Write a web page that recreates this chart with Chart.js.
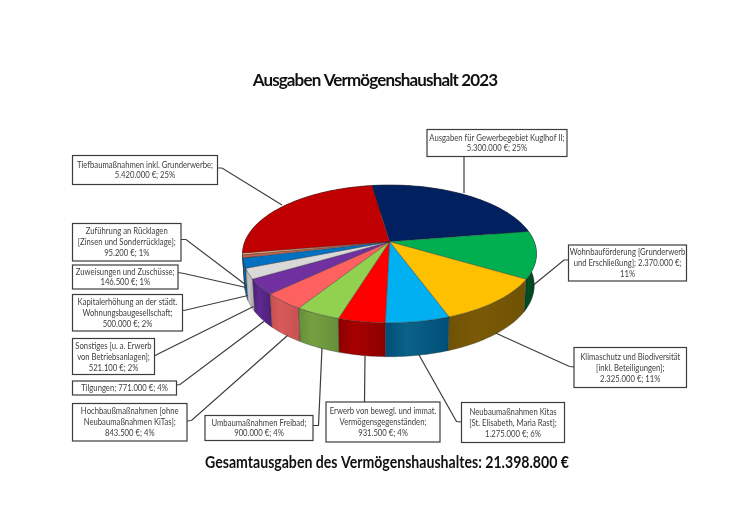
<!DOCTYPE html>
<html><head><meta charset="utf-8">
<style>html,body{margin:0;padding:0;background:#fff}canvas{display:block}</style>
<script src="https://cdn.jsdelivr.net/npm/chart.js@4"></script>
</head><body><canvas id="c" width="750" height="530"></canvas>
<script>
const categories = ["Ausgaben für Gewerbegebiet Kuglhof II","Wohnbauförderung","Klimaschutz und Biodiversität","Neubaumaßnahmen Kitas","Erwerb von bewegl. und immat. Vermögensgegenständen","Umbaumaßnahmen Freibad","Hochbaumaßnahmen","Tilgungen","Sonstiges","Kapitalerhöhung","Zuweisungen und Zuschüsse","Zuführung an Rücklagen","Tiefbaumaßnahmen"];
const values = [5300000,2370000,2325000,1275000,931500,900000,843500,771000,521100,500000,146500,95200,5420000];
const topColors = ["#002060","#00B050","#FFC000","#00B0F0","#FF0000","#92D050","#FF6161","#7030A0","#D9D9D9","#0070C0","#C0654D","#F4B183","#C00000"];
const wallColors = [["#001030","#001030"],["#004D25","#00401e"],["#7A5A06","#705204"],["#0A6288","#004F78"],["#A80000","#8c0000"],["#76A040","#64903a"],["#D85A5A","#C85050"],["#5E2A90","#4c1f78"],["#C4C4C4","#A8A8A8"],["#0A6AB0","#0A5A98"],["#90503c","#90503c"],["#c09070","#c09070"],["#800000","#800000"]];
const labelLines = [
 ["Ausgaben für Gewerbegebiet Kuglhof II;","5.300.000 €; 25%"],
 ["Wohnbauförderung [Grunderwerb","und Erschließung]; 2.370.000 €;","11%"],
 ["Klimaschutz und Biodiversität","[inkl. Beteiligungen];","2.325.000 €; 11%"],
 ["Neubaumaßnahmen Kitas","[St. Elisabeth, Maria Rast];","1.275.000 €; 6%"],
 ["Erwerb von bewegl. und immat.","Vermögensgegenständen;","931.500 €; 4%"],
 ["Umbaumaßnahmen Freibad;","900.000 €; 4%"],
 ["Hochbaußmaßnahmen [ohne","Neubaumaßnahmen KiTas];","843.500 €; 4%"],
 ["Tilgungen; 771.000 €; 4%"],
 ["Sonstiges [u. a. Erwerb","von Betriebsanlagen];","521.100 €; 2%"],
 ["Kapitalerhöhung an der städt.","Wohnungsbaugesellschaft;","500.000 €; 2%"],
 ["Zuweisungen und Zuschüsse;","146.500 €; 1%"],
 ["Zuführung an Rücklagen","[Zinsen und Sonderrücklage];","95.200 €; 1%"],
 ["Tiefbaumaßnahmen inkl. Grunderwerbe;","5.420.000 €; 25%"]
];
const labelBoxes = [[427,129.5,140,27],[568.5,245,118,36],[574,347.5,112.5,40],[461.5,402.5,103,40],[326,402,114,40],[205,415.5,108,25],[72.5,403.5,114.5,37.5],[72.5,381,104,14],[72.5,338.5,82,36],[72.5,294.5,110,36.5],[72.5,265,105.5,24],[72.5,223.5,108.5,37.5],[72.5,155.5,145,29]];
const leaders = [
 [[464,156.5],[464,193]],
 [[568.5,260],[564,260],[533.5,285]],
 [[574,367],[569.5,366.5],[495.5,333]],
 [[461.5,422],[456.5,421.5],[419,355]],
 [[364.5,402],[365,356]],
 [[313,425.5],[318.5,425.5],[322,348]],
 [[187,421],[191.5,420.5],[287.5,335.5]],
 [[176.5,385],[180,384.5],[264.5,321]],
 [[154.5,356],[159,353.5],[253.5,306.5]],
 [[182.5,310],[184,310.5],[248,295.5]],
 [[178,272.5],[184,273.5],[246,287.5]],
 [[181,239.5],[186,239.5],[246,285]],
 [[217.5,168],[222,168],[282,205]]
];
const titleText = "Ausgaben Vermögenshaushalt 2023";
const totalText = "Gesamtausgaben des Vermögenshaushaltes: 21.398.800 €";
const TEXT_FONT = 'Lato,sans-serif';

// perspective view of the pie's disk
const P = {cx:389.5, cy:241.7, C:144.7, B:66.7, p:0.1765};
function top3d(a){const u=Math.cos(a),v=Math.sin(a),w=1-P.p*v;return [P.cx+P.C*u/w,P.cy+P.B*v/w];}
function bottom3d(a){const t=top3d(a),v=Math.sin(a);return [P.cx+(t[0]-P.cx)*0.985,t[1]+31+3*v];}
function arcPts(fn,s,e){const n=Math.max(2,Math.ceil((e-s)/0.02)),o=[];for(let i=0;i<=n;i++)o.push(fn(s+(e-s)*i/n));return o;}
function trace(ctx,pts){pts.forEach((q,i)=>i?ctx.lineTo(q[0],q[1]):ctx.moveTo(q[0],q[1]));}
function trace2(ctx,pts){pts.forEach(q=>ctx.lineTo(q[0],q[1]));}
function narrowText(ctx,s,x,y,k){ctx.save();ctx.translate(x,y);ctx.scale(k,1);ctx.fillText(s,0,0);ctx.restore();}

const pie3d = {
 id:'pie3d',
 beforeDraw(chart){chart.ctx.letterSpacing='-0.85px';},
 beforeDatasetDraw(chart,args){
  const ctx=chart.ctx, arcs=chart.getDatasetMeta(args.index).data;
  ctx.letterSpacing='0px';
  ctx.save();
  const order=arcs.map((a,i)=>i).sort((i,j)=>Math.sin((arcs[i].startAngle+arcs[i].endAngle)/2)-Math.sin((arcs[j].startAngle+arcs[j].endAngle)/2));
  order.forEach(i=>{
   const a=arcs[i],t=arcPts(top3d,a.startAngle,a.endAngle),b=arcPts(bottom3d,a.startAngle,a.endAngle);
   const xs=t.concat(b).map(q=>q[0]),x0=Math.min(...xs),x1=Math.max(...xs);
   const g=ctx.createLinearGradient(x0,0,x1,0);
   g.addColorStop(0,wallColors[i][1]);g.addColorStop(0.35,wallColors[i][0]);g.addColorStop(1,wallColors[i][1]);
   ctx.beginPath();trace(ctx,t);trace2(ctx,b.reverse());ctx.closePath();
   ctx.fillStyle=g;ctx.fill();
   ctx.strokeStyle='rgba(40,40,40,0.55)';ctx.lineWidth=0.6;ctx.stroke();
  });
  arcs.forEach(a=>{
   ctx.beginPath();ctx.moveTo(P.cx,P.cy);trace2(ctx,arcPts(top3d,a.startAngle,a.endAngle));ctx.closePath();
   ctx.fillStyle=a.options.backgroundColor;ctx.fill();
   ctx.strokeStyle='rgba(50,50,50,0.6)';ctx.lineWidth=0.6;ctx.stroke();
  });
  ctx.restore();
  return false;
 },
 afterDatasetsDraw(chart){
  const ctx=chart.ctx;ctx.save();
  ctx.strokeStyle='#3c3c3c';ctx.lineWidth=1.2;
  leaders.forEach(l=>{ctx.beginPath();trace(ctx,l);ctx.stroke();});
  labelBoxes.forEach((b,i)=>{
   ctx.fillStyle='#fff';ctx.fillRect(b[0],b[1],b[2],b[3]);
   ctx.strokeStyle='#3c3c3c';ctx.lineWidth=1.2;ctx.strokeRect(b[0],b[1],b[2],b[3]);
   ctx.fillStyle='#404040';ctx.font='9.5px '+TEXT_FONT;ctx.textAlign='center';ctx.textBaseline='middle';
   const lines=labelLines[i],lh=lines.length===3?11:10.5,y0=b[1]+b[3]/2-(lines.length-1)*lh/2;
   lines.forEach((s,k)=>narrowText(ctx,s,b[0]+b[2]/2,y0+k*lh,0.81));
  });
  ctx.fillStyle='#111';ctx.font='bold 17px '+TEXT_FONT;ctx.textAlign='center';ctx.textBaseline='middle';
  narrowText(ctx,totalText,387,462.5,0.83);
  ctx.restore();
 }
};

new Chart(document.getElementById('c'),{
 type:'pie',
 data:{labels:categories,datasets:[{data:values,backgroundColor:topColors,borderWidth:0}]},
 options:{
  responsive:false,animation:false,rotation:-8.2,
  plugins:{
   legend:{display:false},tooltip:{enabled:false},
   title:{display:true,text:titleText,color:'#111',font:{family:TEXT_FONT,size:17,weight:'bold'},padding:{top:70,bottom:10}}
  }
 },
 plugins:[pie3d]
});
</script></body></html>
